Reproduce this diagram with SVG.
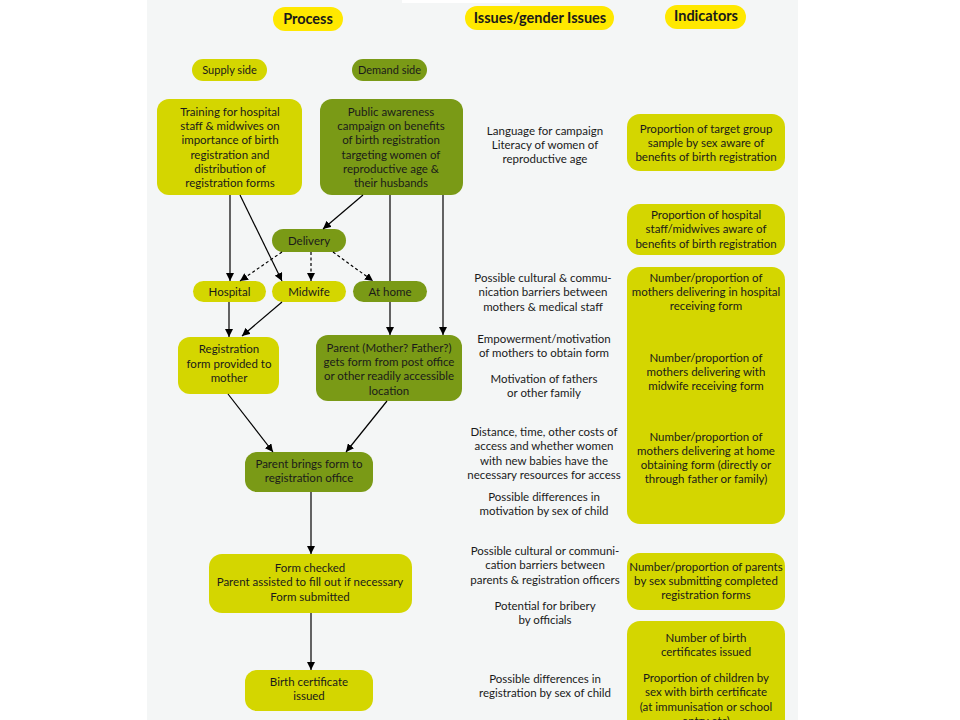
<svg xmlns="http://www.w3.org/2000/svg" width="960" height="720" viewBox="0 0 960 720">
<defs>
<marker id="ah" viewBox="0 0 10 10" refX="10" refY="5" markerWidth="8" markerHeight="8" markerUnits="userSpaceOnUse" orient="auto">
<path d="M0,0 L10,5 L0,10 z" fill="#000"/>
</marker>
<style>
text{font-family:Lato,"Liberation Sans",sans-serif;font-size:11.5px;fill:#1a1a1a;text-anchor:middle}
.hd{font-size:14.5px;font-weight:bold}
.sm{font-size:11px}
.lt{fill:#d4d600}
.dk{fill:#7a9a16}
.yl{fill:#ffe800}
.c line{stroke:#000;stroke-width:1.2;fill:none}
.c .a{marker-end:url(#ah)}
.c .d{stroke-dasharray:3 2.5}
</style>
</defs>
<rect width="960" height="720" fill="#fff"/>
<rect x="147" y="0" width="651" height="720" fill="#f4f6f6"/>
<rect x="402" y="0" width="118" height="3" fill="#fff"/>

<g id="h-process"><rect class="yl" x="273" y="7" width="70" height="24" rx="12"/><text class="hd" x="308" y="24">Process</text></g>
<g id="h-issues"><rect class="yl" x="465" y="6" width="149" height="24" rx="12"/><text class="hd" x="540" y="23">Issues/gender Issues</text></g>
<g id="h-indicators"><rect class="yl" x="665" y="5" width="81" height="24" rx="12"/><text class="hd" x="706" y="21">Indicators</text></g>

<g id="supply"><rect class="lt" x="192" y="59" width="75" height="22" rx="11"/><text class="sm" x="229.500" y="74">Supply side</text></g>
<g id="demand"><rect class="dk" x="352" y="59" width="75" height="22" rx="11"/><text class="sm" x="389.500" y="74">Demand side</text></g>

<g id="training"><rect class="lt" x="157" y="99" width="145" height="96" rx="12"/>
<text x="230" y="116">Training for hospital</text><text x="230" y="130">staff &amp; midwives on</text><text x="230" y="144">importance of birth</text><text x="230" y="159">registration and</text><text x="230" y="173">distribution of</text><text x="230" y="187">registration forms</text></g>
<g id="public"><rect class="dk" x="320" y="99" width="143" height="96" rx="12"/>
<text x="391" y="116">Public awareness</text><text x="391" y="130">campaign on benefits</text><text x="391" y="144">of birth registration</text><text x="391" y="159">targeting women of</text><text x="391" y="173">reproductive age &amp;</text><text x="391" y="187">their husbands</text></g>

<g id="delivery"><rect class="dk" x="272" y="229" width="74" height="23" rx="11.500"/><text x="309" y="245">Delivery</text></g>
<g id="hospital"><rect class="lt" x="193" y="281" width="73" height="21" rx="10.500"/><text x="229.500" y="296">Hospital</text></g>
<g id="midwife"><rect class="lt" x="272" y="281" width="74" height="21" rx="10.500"/><text x="309" y="296">Midwife</text></g>
<g id="athome"><rect class="dk" x="353" y="281" width="74" height="21" rx="10.500"/><text x="390" y="296">At home</text></g>

<g id="regform"><rect class="lt" x="178" y="337" width="101" height="57" rx="12"/>
<text x="229" y="353">Registration</text><text x="229" y="368">form provided to</text><text x="229" y="382">mother</text></g>
<g id="parentgets"><rect class="dk" x="316" y="335" width="146" height="66" rx="12"/>
<text x="389" y="352">Parent (Mother? Father?)</text><text x="389" y="366">gets form from post office</text><text x="389" y="380">or other readily accessible</text><text x="389" y="395">location</text></g>

<g id="parentbrings"><rect class="dk" x="245" y="452" width="128" height="40" rx="12"/>
<text x="309" y="468">Parent brings form to</text><text x="309" y="482">registration office</text></g>

<g id="formchecked"><rect class="lt" x="209" y="554" width="203" height="59" rx="13"/>
<text x="310" y="572">Form checked</text><text x="310" y="586">Parent assisted to fill out if necessary</text><text x="310" y="601">Form submitted</text></g>

<g id="birthcert"><rect class="lt" x="245" y="670" width="128" height="41" rx="12"/>
<text x="309" y="686">Birth certificate</text><text x="309" y="700">issued</text></g>

<g id="issues">
<text x="545" y="135">Language for campaign</text><text x="545" y="149">Literacy of women of</text><text x="545" y="163">reproductive age</text>
<text x="543" y="282">Possible cultural &amp; commu-</text><text x="543" y="296">nication barriers between</text><text x="543" y="311">mothers &amp; medical staff</text>
<text x="544" y="343">Empowerment/motivation</text><text x="544" y="357">of mothers to obtain form</text>
<text x="544" y="383">Motivation of fathers</text><text x="544" y="397">or other family</text>
<text x="544" y="436">Distance, time, other costs of</text><text x="544" y="450">access and whether women</text><text x="544" y="465">with new babies have the</text><text x="544" y="479">necessary resources for access</text>
<text x="544" y="501">Possible differences in</text><text x="544" y="515">motivation by sex of child</text>
<text x="545" y="555">Possible cultural or communi-</text><text x="545" y="569">cation barriers between</text><text x="545" y="584">parents &amp; registration officers</text>
<text x="545" y="610">Potential for bribery</text><text x="545" y="624">by officials</text>
<text x="545" y="683">Possible differences in</text><text x="545" y="697">registration by sex of child</text>
</g>

<g id="ind1"><rect class="lt" x="627" y="114" width="158" height="57" rx="13"/>
<text x="706" y="133">Proportion of target group</text><text x="706" y="147">sample by sex aware of</text><text x="706" y="161">benefits of birth registration</text></g>
<g id="ind2"><rect class="lt" x="627" y="204" width="158" height="51" rx="13"/>
<text x="706" y="219">Proportion of hospital</text><text x="706" y="233">staff/midwives aware of</text><text x="706" y="248">benefits of birth registration</text></g>
<g id="ind3"><rect class="lt" x="627" y="267" width="158" height="257" rx="13"/>
<text x="706" y="282">Number/proportion of</text><text x="706" y="296">mothers delivering in hospital</text><text x="706" y="310">receiving form</text>
<text x="706" y="362">Number/proportion of</text><text x="706" y="376">mothers delivering with</text><text x="706" y="390">midwife receiving form</text>
<text x="706" y="441">Number/proportion of</text><text x="706" y="455">mothers delivering at home</text><text x="706" y="469">obtaining form (directly or</text><text x="706" y="483">through father or family)</text></g>
<g id="ind4"><rect class="lt" x="627" y="553" width="158" height="57" rx="13"/>
<text x="706" y="571">Number/proportion of parents</text><text x="706" y="585">by sex submitting completed</text><text x="706" y="599">registration forms</text></g>
<g id="ind5"><rect class="lt" x="627" y="621" width="158" height="120" rx="13"/>
<text x="706" y="642">Number of birth</text><text x="706" y="656">certificates issued</text>
<text x="706" y="682">Proportion of children by</text><text x="706" y="696">sex with birth certificate</text><text x="706" y="711">(at immunisation or school</text><text x="706" y="725">entry etc)</text></g>

<g id="connectors" class="c">
<line class="a" x1="230" y1="195" x2="230" y2="281"/>
<line class="a" x1="240" y1="195" x2="282" y2="281"/>
<line class="a" x1="363" y1="195" x2="323" y2="229"/>
<line x1="390" y1="195" x2="390" y2="281"/>
<line class="a" x1="443" y1="195" x2="443" y2="335"/>
<line class="a d" x1="282" y1="252" x2="240" y2="281"/>
<line class="a d" x1="311" y1="252" x2="311" y2="281"/>
<line class="a d" x1="333" y1="252" x2="373" y2="281"/>
<line class="a" x1="229" y1="302" x2="229" y2="337"/>
<line class="a" x1="282" y1="302" x2="242" y2="336"/>
<line class="a" x1="390" y1="302" x2="390" y2="335"/>
<line class="a" x1="228" y1="394" x2="273" y2="452"/>
<line class="a" x1="387" y1="401" x2="346" y2="452"/>
<line class="a" x1="311" y1="492" x2="311" y2="554"/>
<line class="a" x1="311" y1="613" x2="311" y2="670"/>
</g>
</svg>
